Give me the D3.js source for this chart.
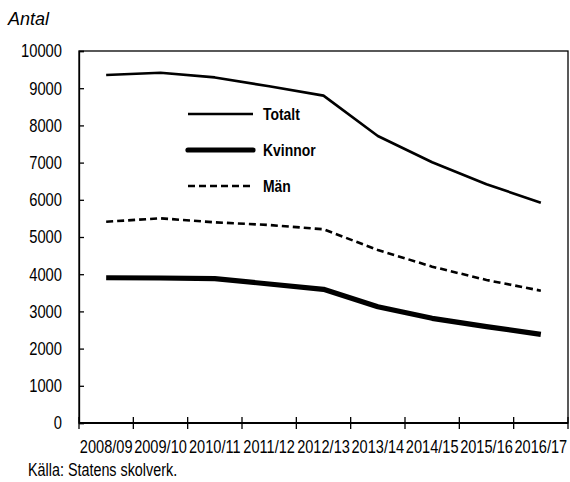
<!DOCTYPE html>
<html><head><meta charset="utf-8">
<script src="https://cdn.jsdelivr.net/npm/d3@7"></script>
<style>
body{margin:0;background:#fff;}
svg{display:block;}
text{font-family:"Liberation Sans",Arial,sans-serif;fill:#000;}
</style></head>
<body><svg id="c" width="570" height="482"></svg>
<script>
const categories = ["2008/09","2009/10","2010/11","2011/12","2012/13","2013/14","2014/15","2015/16","2016/17"];
const totalt  = [9355, 9415, 9290, 9050, 8800, 7715, 7010, 6420, 5920];
const kvinnor = [3905, 3898, 3880, 3737, 3594, 3127, 2814, 2589, 2384];
const man     = [5411, 5502, 5395, 5323, 5207, 4651, 4203, 3844, 3557];
const yTicks = [0,1000,2000,3000,4000,5000,6000,7000,8000,9000,10000];
const seriesNames = ["Totalt","Kvinnor","Män"];

const svg = d3.select("#c");
const L = 79, R = 568, T = 51, B = 423;
const NARROW = 0.82;
const x = d3.scaleBand().domain(categories).range([L, R]);
const y = d3.scaleLinear().domain([0, 10000]).range([B, T]);

function ntext(g, px, py, str, size, anchor, weight, dy) {
  return g.append("text")
    .attr("transform", `translate(${px},${py}) scale(${NARROW},1)`)
    .attr("text-anchor", anchor || "start")
    .attr("font-size", size)
    .attr("font-weight", weight || "normal")
    .attr("dy", dy || 0)
    .text(str);
}

// frame
svg.append("rect").attr("x", L).attr("y", T).attr("width", R - L).attr("height", B - T)
  .attr("fill", "none").attr("stroke", "#000").attr("stroke-width", 1.3);

// y axis
const ya = svg.append("g").attr("transform", `translate(${L},0)`)
  .call(d3.axisRight(y).tickValues(yTicks).tickSize(5).tickFormat(""));
ya.select(".domain").attr("stroke-width", 1.3);
ya.selectAll(".tick line").attr("stroke-width", 1.3);
const yl = svg.append("g");
yTicks.forEach(d => ntext(yl, 62, y(d), d, 18, "end", "normal", "0.35em"));

// x axis ticks (crossing)
const xTickPos = categories.map(c => x(c)).concat([R]);
svg.append("line").attr("x1", L).attr("x2", R).attr("y1", B).attr("y2", B)
  .attr("stroke", "#000").attr("stroke-width", 2);
svg.append("g").selectAll("line").data(xTickPos).join("line")
  .attr("x1", d => d).attr("x2", d => d).attr("y1", B - 6).attr("y2", B + 6)
  .attr("stroke", "#000").attr("stroke-width", 1.3);
const xl = svg.append("g");
categories.forEach(c => ntext(xl, x(c) + x.bandwidth() / 2, 453, c, 17.8, "middle"));

// lines
const line = d3.line().x((d, i) => x(categories[i]) + x.bandwidth() / 2).y(d => y(d));
const styles = [
  {data: totalt, w: 2.6, dash: null},
  {data: kvinnor, w: 5.2, dash: null},
  {data: man, w: 2.6, dash: "7,4"}
];
styles.forEach(s => {
  svg.append("path").datum(s.data).attr("d", line)
    .attr("fill", "none").attr("stroke", "#000").attr("stroke-width", s.w)
    .attr("stroke-dasharray", s.dash).attr("stroke-linejoin", "round");
});

// legend
const legY = [114, 150, 186];
const lg = svg.append("g");
styles.forEach((s, i) => {
  lg.append("line").attr("x1", 188).attr("x2", 253).attr("y1", legY[i]).attr("y2", legY[i])
    .attr("stroke", "#000").attr("stroke-width", s.w).attr("stroke-dasharray", s.dash)
    .attr("stroke-linecap", i === 1 ? "round" : "butt");
  ntext(lg, 263, legY[i], seriesNames[i], 17, "start", "bold", "0.35em");
});

// titles
svg.append("text").attr("x", 8).attr("y", 25).attr("font-size", 18)
  .attr("font-style", "italic").text("Antal");
ntext(svg, 28, 476, "Källa: Statens skolverk.", 17.5, "start");
</script></body></html>
